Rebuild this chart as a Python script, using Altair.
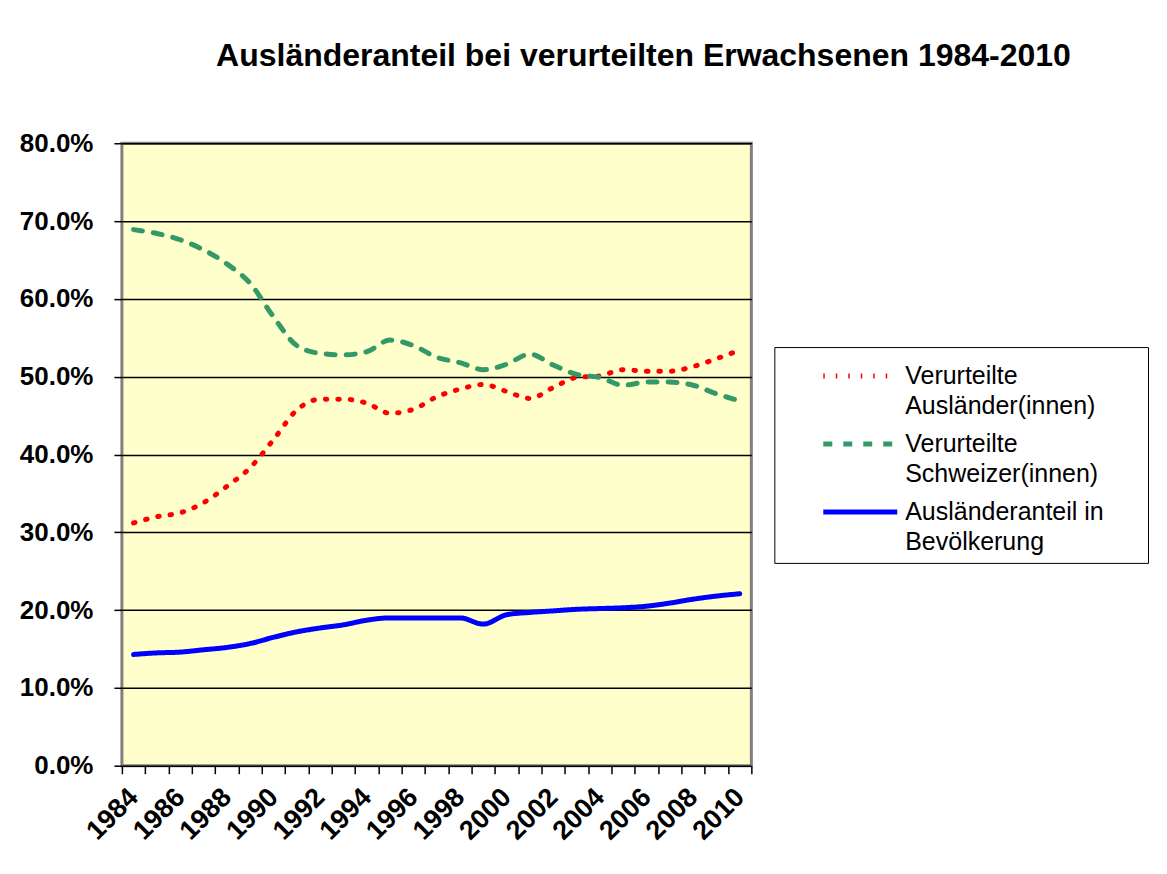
import altair as alt
import pandas as pd

years = list(range(1984, 2011))

verurteilte_auslaender = [31.2, 32.0, 32.5, 33.8, 35.9, 38.3, 41.9, 45.7, 47.1, 47.1,
                          46.6, 45.3, 45.8, 47.4, 48.4, 49.0, 48.1, 47.2, 48.6, 49.9,
                          50.1, 50.9, 50.7, 50.7, 51.3, 52.3, 53.4]
verurteilte_schweizer = [68.9, 68.4, 67.6, 66.3, 64.5, 62.0, 57.7, 54.0, 53.0, 52.8,
                         53.2, 54.7, 54.0, 52.5, 51.8, 50.9, 51.6, 52.9, 51.5, 50.3,
                         49.9, 48.9, 49.3, 49.3, 48.9, 47.8, 46.9]
auslaenderanteil_bevoelkerung = [14.3, 14.5, 14.6, 14.9, 15.2, 15.7, 16.5, 17.2, 17.7, 18.1,
                                 18.7, 19.0, 19.0, 19.0, 19.0, 18.2, 19.4, 19.7, 19.9, 20.1,
                                 20.2, 20.3, 20.5, 20.9, 21.4, 21.8, 22.1]

series_names = ["Verurteilte Ausländer(innen)",
                "Verurteilte Schweizer(innen)",
                "Ausländeranteil in Bevölkerung"]
series_colors = ["#FF0000", "#339966", "#0000FF"]
series_dashes = [[1.5, 11], [9, 11], [1, 0]]

y_tick_values = [0, 10, 20, 30, 40, 50, 60, 70, 80]
title_text = "Ausländeranteil bei verurteilten Erwachsenen 1984-2010"

rows = []
for name, vals in zip(series_names,
                      [verurteilte_auslaender, verurteilte_schweizer, auslaenderanteil_bevoelkerung]):
    for yr, v in zip(years, vals):
        rows.append({"Jahr": yr, "Anteil": v, "Reihe": name})
df = pd.DataFrame(rows)

# axis values: half-year positions carry the ticks, even years carry the labels
x_axis_values = sorted([y - 0.5 for y in years] + [years[-1] + 0.5] + years)

FONT = "Liberation Sans"
PAD = "\u2800" * 2

label_expr_legend = (
    "datum.label == 'Ausländeranteil in Bevölkerung' ? "
    f"['Ausländeranteil in{PAD}', 'Bevölkerung'] : "
    "datum.label == 'Verurteilte Schweizer(innen)' ? "
    f"['Verurteilte', 'Schweizer(innen){PAD}'] : split(datum.label, ' ')"
)

legend = alt.Legend(
    title=None,
    orient="none",
    legendX=653,
    legendY=204,
    labelExpr=label_expr_legend,
    symbolType="M-2,0H2",
    symbolSize=1369,
    symbolStrokeWidth=5,
    symbolOffset=57,
    labelOffset=24,
    labelFontSize=25,
    labelFont=FONT,
    labelColor="black",
    labelLimit=500,
    fillColor="white",
    strokeColor="black",
    padding=8,
    rowPadding=4,
)

line = alt.Chart(df).mark_line(strokeWidth=5, strokeCap="round", interpolate="monotone").encode(
    x=alt.X("Jahr:Q",
            scale=alt.Scale(domain=[1983.5, 2010.5], nice=False, zero=False),
            axis=alt.Axis(
                title=None,
                values=x_axis_values,
                grid=False,
                domain=False,
                tickSize=8,
                tickColor="black",
                tickWidth=1.5,
                tickOpacity={"condition": {"test": "datum.value % 1 == 0", "value": 0}, "value": 1},
                labelExpr="datum.value % 2 == 0 ? format(datum.value, 'd') : ''",
                labelAngle=-45,
                labelAlign="right",
                labelBaseline="middle",
                labelPadding=19,
                labelOverlap=False,
                labelFlush=False,
                labelBound=False,
                labelFontSize=27,
                labelFontWeight="bold",
                labelFont=FONT,
                labelColor="black",
            )),
    y=alt.Y("Anteil:Q",
            scale=alt.Scale(domain=[0, 80], nice=False),
            axis=alt.Axis(
                title=None,
                values=y_tick_values,
                grid=True,
                gridColor="black",
                gridWidth=1.5,
                domain=False,
                tickSize=8,
                tickColor="black",
                tickWidth=1.5,
                labelExpr="format(datum.value, '.1f') + '%'",
                labelPadding=21,
                labelFontSize=26,
                labelFontWeight="bold",
                labelFont=FONT,
                labelColor="black",
            )),
    color=alt.Color("Reihe:N",
                    scale=alt.Scale(domain=series_names, range=series_colors),
                    sort=series_names,
                    legend=legend),
    strokeDash=alt.StrokeDash("Reihe:N",
                              scale=alt.Scale(domain=series_names, range=series_dashes),
                              sort=series_names,
                              legend=legend),
)

chart = line.properties(
    width=630,
    height=623,
    background="white",
    autosize=alt.AutoSizeParams(type="none"),
    padding={"left": 114, "top": 135, "right": 408, "bottom": 95},
    title=alt.TitleParams(
        text=title_text,
        font=FONT,
        fontSize=32,
        fontWeight="bold",
        color="black",
        anchor="middle",
        frame="group",
        dx=207,
        offset=57,
    ),
).configure(
    view=alt.ViewConfig(fill="#FFFFCC", stroke="#808080", strokeWidth=3),
    style={"guide-label": {"lineHeight": 30}},
)

chart.save("out.html", embed_options={"renderer": "svg", "actions": False})
